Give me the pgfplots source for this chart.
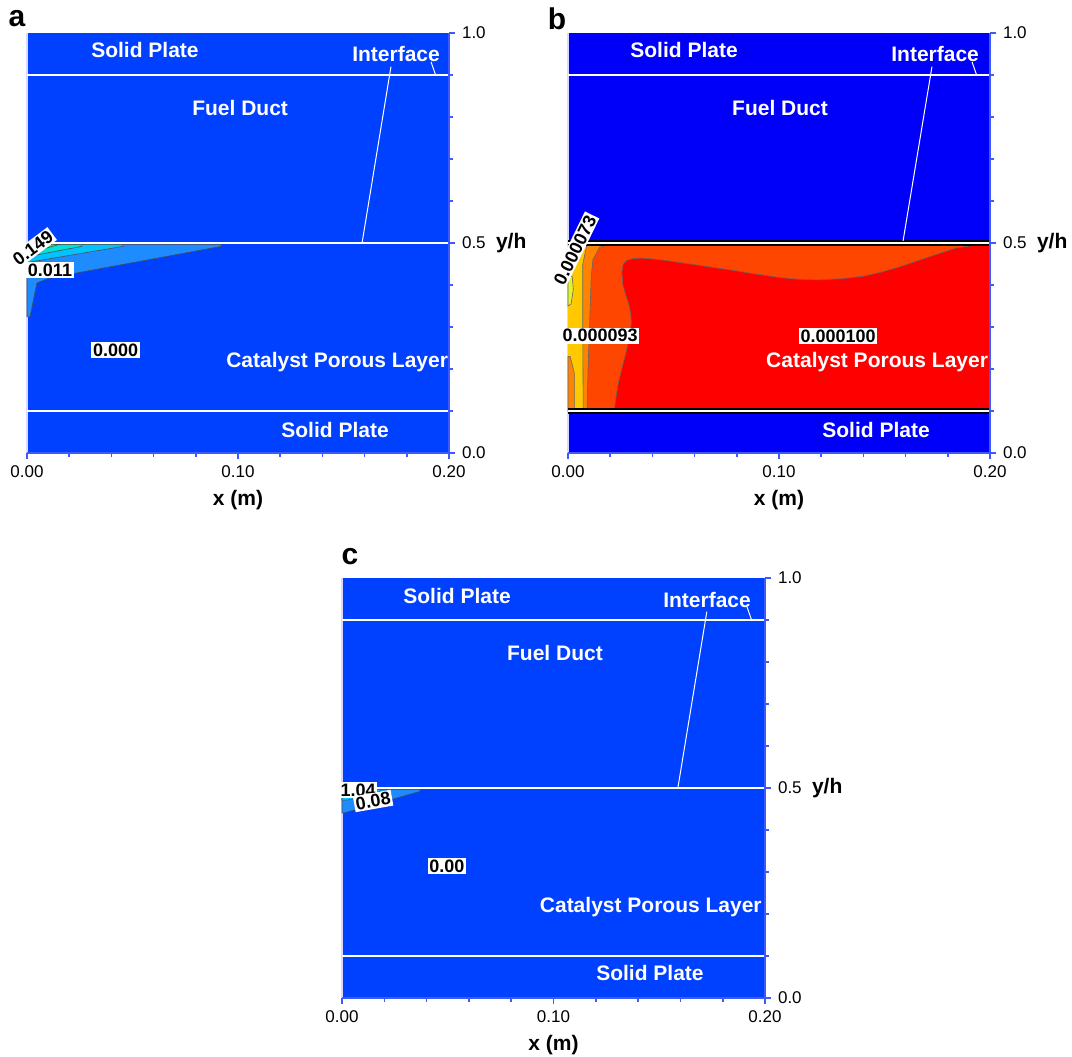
\documentclass[border=0pt]{standalone}
\usepackage{pgfplots}
\pgfplotsset{compat=1.18}
\usepackage{fontspec}
\setmainfont{Liberation Sans}
\definecolor{bgA}{RGB}{0,64,255}
\definecolor{bgB}{RGB}{0,0,250}
\definecolor{lvA}{RGB}{30,140,255}
\definecolor{lvB}{RGB}{0,195,255}
\definecolor{lvC}{RGB}{0,225,215}
\definecolor{lvD}{RGB}{60,230,110}
\definecolor{axblue}{RGB}{60,90,255}
\definecolor{rR}{RGB}{255,0,0}
\definecolor{rOR}{RGB}{255,70,0}
\definecolor{rO}{RGB}{255,130,0}
\definecolor{rY}{RGB}{255,200,0}
\definecolor{rLY}{RGB}{225,245,40}
\pgfplotsset{panel/.style={
  scale only axis, width=211pt, height=210pt,
  xmin=0,xmax=0.2,ymin=0,ymax=1,
  axis x line*=bottom, axis y line*=right,
  axis line style={axblue, line width=0.8pt},
  every tick/.style={axblue, line width=0.8pt},
  tick align=outside,
  major tick length=3pt, minor tick length=1.8pt,
  xtick={0,0.1,0.2}, xticklabels={0.00,0.10,0.20},
  ytick={0,0.5,1}, yticklabels={0.0,0.5,1.0},
  minor x tick num=4, minor y tick num=4,
  tick label style={font=\fontsize{8.5}{10}\selectfont, black},
  /pgf/number format/assume math mode=true,
  clip=false, axis on top,
}}
\tikzset{wlab/.style={text=white, font=\bfseries\fontsize{10.5}{12}\selectfont},
  vlab/.style={fill=white, text=black, inner sep=0.8pt, font=\bfseries\fontsize{9}{10}\selectfont},
  plab/.style={font=\bfseries\fontsize{15}{16}\selectfont},
  alab/.style={font=\bfseries\fontsize{10.5}{12}\selectfont}}
\begin{document}
\begin{tikzpicture}
\useasboundingbox (0,0) rectangle (536pt,528pt);
% ---------------- panel a
\begin{axis}[panel, at={(13.5pt,301.5pt)}, anchor=south west]
\addplot[fill=bgA, draw=none] coordinates {(0,0)(0.2,0)(0.2,1)(0,1)} -- cycle;
\draw[white!85!blue, line width=0.6pt] (axis cs:0,0) -- (axis cs:0,1);
\addplot[fill=lvA, draw=black!70, line width=0.3pt] coordinates {(0,0.497)(0.092,0.497)(0.092,0.492)(0.0109,0.417)(0.0047,0.405)(0.0014,0.324)(0,0.324)} -- cycle;
\addplot[fill=lvB, draw=black!70, line width=0.3pt] coordinates {(0,0.497)(0.0455,0.497)(0.0455,0.492)(0.002,0.455)(0,0.455)} -- cycle;
\addplot[fill=lvC, draw=black!70, line width=0.3pt] coordinates {(0,0.497)(0.026,0.497)(0.026,0.492)(0.003,0.47)(0,0.47)} -- cycle;
\addplot[fill=lvD, draw=black!70, line width=0.3pt] coordinates {(0.003,0.497)(0.0156,0.497)(0.005,0.482)} -- cycle;
\addplot[white, line width=0.9pt] coordinates {(0,0.9)(0.2,0.9)};
\addplot[white, line width=0.9pt] coordinates {(0,0.5)(0.2,0.5)};
\addplot[white, line width=0.9pt] coordinates {(0,0.1)(0.2,0.1)};
\addplot[white, line width=0.5pt] coordinates {(0.1588,0.5)(0.1725,0.92)};
\addplot[white, line width=0.5pt] coordinates {(0.1915,0.931)(0.1938,0.898)};
\node[wlab] at (axis cs:0.0559,0.96) {Solid Plate};
\node[wlab] at (axis cs:0.1749,0.95) {Interface};
\node[wlab] at (axis cs:0.101,0.821) {Fuel Duct};
\node[wlab] at (axis cs:0.147,0.217) {Catalyst Porous Layer};
\node[wlab] at (axis cs:0.146,0.055) {Solid Plate};
\node[vlab, rotate=37] at (axis cs:0.0028,0.488) {0.149};
\node[vlab] at (axis cs:0.0109,0.436) {0.011};
\node[vlab] at (axis cs:0.042,0.245) {0.000};
\node[plab] at (rel axis cs:0,1) [xshift=-5pt, yshift=7pt] {a};
\node[alab] at (rel axis cs:0.5,0) [yshift=-23.5pt] {x (m)};
\node[alab, anchor=west] at (rel axis cs:1,0.5) [xshift=20pt] {y/h};
\end{axis}
% ---------------- panel b
\begin{axis}[panel, at={(284pt,301.5pt)}, anchor=south west]
\addplot[fill=bgB, draw=none] coordinates {(0,0)(0.2,0)(0.2,1)(0,1)} -- cycle;
\draw[white!85!blue, line width=0.6pt] (axis cs:0,0) -- (axis cs:0,1);
\addplot[fill=rY, draw=none] coordinates {(0,0.1)(0.2,0.1)(0.2,0.5)(0,0.5)} -- cycle;
\addplot[fill=rLY, draw=black!60, line width=0.3pt] coordinates {(0,0.35)(0.0015,0.355)(0.0025,0.39)(0.002,0.42)(0,0.425)} -- cycle;
\addplot[fill=rO, draw=black!60, line width=0.3pt] coordinates {(0,0.1)(0.003,0.1)(0.003,0.19)(0.001,0.23)(0,0.23)} -- cycle;
\addplot[fill=rO, draw=black!60, line width=0.3pt] coordinates {(0.009,0.497)(0.2,0.497)(0.2,0.1)(0.0072,0.1)(0.007,0.28)(0.007,0.45)} -- cycle;
\addplot[fill=rOR, draw=black!60, line width=0.3pt] coordinates {(0.020,0.497)(0.2,0.497)(0.2,0.1)(0.009,0.1)(0.0095,0.2)(0.0104,0.333)(0.011,0.42)(0.0118,0.46)(0.015,0.49)} -- cycle;
\addplot[fill=rR, draw=black!60, line width=0.3pt] coordinates {(0.2,0.495)(0.192,0.494)(0.184,0.488)(0.177,0.477)(0.17,0.465)(0.163,0.453)(0.157,0.443)(0.148,0.430)(0.14,0.421)(0.13,0.415)(0.118,0.412)(0.108,0.414)(0.10,0.418)(0.089,0.426)(0.078,0.435)(0.066,0.444)(0.055,0.452)(0.047,0.458)(0.04,0.462)(0.035,0.464)(0.031,0.463)(0.028,0.459)(0.0262,0.450)(0.0255,0.43)(0.026,0.40)(0.0275,0.375)(0.029,0.35)(0.0298,0.33)(0.030,0.31)(0.0293,0.28)(0.028,0.25)(0.0265,0.22)(0.025,0.19)(0.0238,0.165)(0.023,0.14)(0.0224,0.12)(0.022,0.10)(0.2,0.10)} -- cycle;
\addplot[white, line width=0.9pt] coordinates {(0,0.9)(0.2,0.9)};
\addplot[black, line width=2.6pt] coordinates {(0,0.5)(0.2,0.5)};
\addplot[white, line width=0.8pt] coordinates {(0,0.5)(0.2,0.5)};
\addplot[black, line width=2.6pt] coordinates {(0,0.1)(0.2,0.1)};
\addplot[white, line width=0.8pt] coordinates {(0,0.1)(0.2,0.1)};
\addplot[white, line width=0.5pt] coordinates {(0.1588,0.505)(0.1725,0.92)};
\addplot[white, line width=0.5pt] coordinates {(0.1915,0.931)(0.1938,0.898)};
\node[wlab] at (axis cs:0.055,0.96) {Solid Plate};
\node[wlab] at (axis cs:0.174,0.95) {Interface};
\node[wlab] at (axis cs:0.1005,0.821) {Fuel Duct};
\node[wlab] at (axis cs:0.1465,0.217) {Catalyst Porous Layer};
\node[wlab] at (axis cs:0.146,0.055) {Solid Plate};
\node[vlab, rotate=64] at (axis cs:0.0033,0.483) {0.000073};
\node[vlab] at (axis cs:0.0152,0.279) {0.000093};
\node[vlab] at (axis cs:0.128,0.279) {0.000100};
\node[plab] at (rel axis cs:0,1) [xshift=-5.5pt, yshift=7pt] {b};
\node[alab] at (rel axis cs:0.5,0) [yshift=-23.5pt] {x (m)};
\node[alab, anchor=west] at (rel axis cs:1,0.5) [xshift=20pt] {y/h};
\end{axis}
% ---------------- panel c
\begin{axis}[panel, width=211.5pt, at={(171pt,29pt)}, anchor=south west]
\addplot[fill=bgA, draw=none] coordinates {(0,0)(0.2,0)(0.2,1)(0,1)} -- cycle;
\draw[white!85!blue, line width=0.6pt] (axis cs:0,0) -- (axis cs:0,1);
\addplot[fill=lvA, draw=black!70, line width=0.3pt] coordinates {(0,0.497)(0.0369,0.497)(0.0369,0.492)(0.0005,0.44)(0,0.44)} -- cycle;
\addplot[fill=lvB, draw=black!70, line width=0.3pt] coordinates {(0,0.497)(0.018,0.497)(0.018,0.492)(0.0024,0.471)(0,0.471)} -- cycle;
\addplot[white, line width=0.9pt] coordinates {(0,0.9)(0.2,0.9)};
\addplot[white, line width=0.9pt] coordinates {(0,0.5)(0.2,0.5)};
\addplot[white, line width=0.9pt] coordinates {(0,0.1)(0.2,0.1)};
\addplot[white, line width=0.5pt] coordinates {(0.1588,0.5)(0.1725,0.92)};
\addplot[white, line width=0.5pt] coordinates {(0.1915,0.931)(0.1938,0.898)};
\node[wlab] at (axis cs:0.0544,0.957) {Solid Plate};
\node[wlab] at (axis cs:0.1726,0.948) {Interface};
\node[wlab] at (axis cs:0.1007,0.821) {Fuel Duct};
\node[wlab] at (axis cs:0.146,0.217) {Catalyst Porous Layer};
\node[wlab] at (axis cs:0.1456,0.06) {Solid Plate};
\node[vlab] at (axis cs:0.0076,0.495) {1.04};
\node[vlab, rotate=10] at (axis cs:0.0147,0.469) {0.08};
\node[vlab] at (axis cs:0.0496,0.314) {0.00};
\node[plab] at (rel axis cs:0,1) [xshift=4pt, yshift=10.5pt] {c};
\node[alab] at (rel axis cs:0.5,0) [yshift=-23.5pt] {x (m)};
\node[alab, anchor=west] at (rel axis cs:1,0.5) [xshift=20pt] {y/h};
\end{axis}
\end{tikzpicture}
\end{document}
